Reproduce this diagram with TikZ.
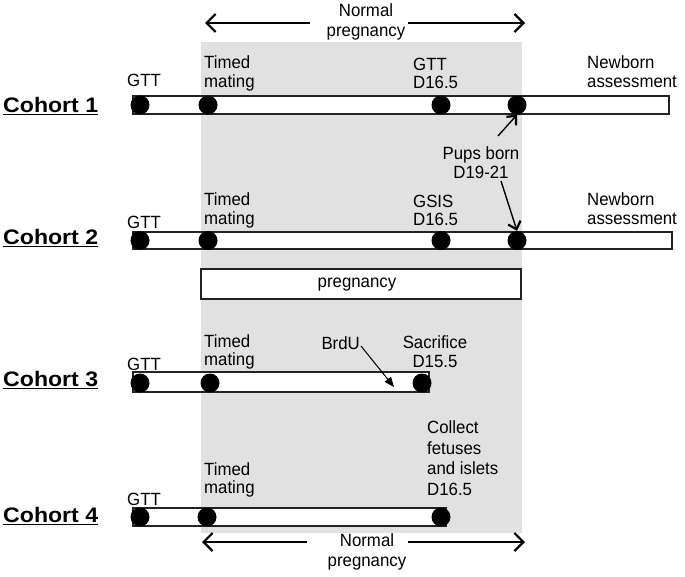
\documentclass[tikz,border=0pt]{standalone}
\usepackage{fontspec}
\setmainfont{Liberation Sans}
\usetikzlibrary{arrows.meta}
\definecolor{bgshade}{RGB}{225,225,225}
\definecolor{barline}{RGB}{35,35,35}
\begin{document}
\begin{tikzpicture}[x=1pt,y=-1pt,
  lbl/.style={font=\fontsize{17.7}{18.8}\selectfont, inner sep=0pt, align=left, transform shape, xscale=0.95},
  clbl/.style={font=\fontsize{17.7}{18.8}\selectfont, inner sep=0pt, align=center, transform shape, xscale=0.95},
  arlbl/.style={clbl, font=\fontsize{17.7}{20}\selectfont},
  cohort/.style={font=\fontsize{21}{24}\selectfont\bfseries, inner sep=0pt, anchor=west, transform shape, xscale=1.1},
  bar/.style={draw=barline, fill=white, line width=1.4pt},
  dot/.style={fill=black, circle, inner sep=0pt, minimum size=19pt},
  bigarrow/.style={line width=1.8pt, -{Straight Barb[length=9pt,width=18pt,line width=2.2pt]}},
  pupsarrow/.style={line width=1.4pt, -{Straight Barb[length=7pt,width=13pt,line width=2.2pt]}},
  brdu/.style={line width=1pt, -{Triangle[length=10pt,width=8pt]}}
]
\useasboundingbox (0,0) rectangle (685,576);
\fill[bgshade] (201,42) rectangle (522,533);

% top arrow
\node[arlbl] (ntop) at (366,22) {Normal\\pregnancy};
\coordinate (tl) at (205,23);
\coordinate (tr) at (525,23);
\draw[bigarrow] (310,23) -- (tl);
\draw[bigarrow] (408,23) -- (tr);

% Cohort 1
\node[cohort] (c1) at (3,106) {\underline{Cohort 1}};
\draw[bar] (133,96) rectangle (669,114);
\node[dot] (d11) at (140,105) {};
\node[dot] (d12) at (208,105) {};
\node[dot] (d13) at (441,105) {};
\node[dot] (d14) at (517,105) {};
\node[lbl, anchor=west] (g1) at (127,80) {GTT};
\node[lbl, anchor=west] (tm1) at (204,73.5) {Timed\\mating};
\node[lbl, anchor=west] (gt1) at (413,73.5) {GTT\\D16.5};
\node[lbl, anchor=west] (nb1) at (587,71.5) {Newborn\\assessment};

% pups born
\node[clbl] (pups) at (481,162.5) {Pups born\\D19-21};

% Cohort 2
\node[cohort] (c2) at (3,238) {\underline{Cohort 2}};
\draw[bar] (133,232) rectangle (672,249);
\node[dot] (d21) at (140,240.5) {};
\node[dot] (d22) at (208,240.5) {};
\node[dot] (d23) at (441,240.5) {};
\node[dot] (d24) at (517,240.5) {};
\node[lbl, anchor=west] (g2) at (127,222) {GTT};
\node[lbl, anchor=west] (tm2) at (204,210.5) {Timed\\mating};
\node[lbl, anchor=west] (gs2) at (413,210.5) {GSIS\\D16.5};
\node[lbl, anchor=west] (nb2) at (587,208.5) {Newborn\\assessment};

\draw[pupsarrow] (498,136) -- (d14.south);
\draw[pupsarrow] (501,181) -- (d24.north);

% pregnancy box
\draw[draw=barline, fill=white, line width=1.2pt] (201,269) rectangle (521,299);
\node[clbl] (preg) at (357,285) {pregnancy};

% Cohort 3
\node[cohort] (c3) at (3,380) {\underline{Cohort 3}};
\draw[bar] (133,372) rectangle (429,392);
\node[dot] (d31) at (140,383) {};
\node[dot] (d32) at (210,383) {};
\node[dot] (d33) at (422,383) {};
\node[lbl, anchor=west] (g3) at (127,364) {GTT};
\node[lbl, anchor=west] (tm3) at (204,352) {Timed\\mating};
\node[lbl, anchor=east] (br3) at (360,343) {BrdU};
\node[clbl] (sc3) at (435,352) {Sacrifice\\D15.5};
\coordinate (brtip) at (394,387);
\draw[brdu] (br3.east) ++(1,3) -- (brtip);

% Cohort 4
\node[cohort] (c4) at (3,516) {\underline{Cohort 4}};
\draw[bar] (133,508) rectangle (446,526);
\node[dot] (d41) at (140,517) {};
\node[dot] (d42) at (207,517) {};
\node[dot] (d43) at (441,517) {};
\node[lbl, anchor=west] (g4) at (127,499) {GTT};
\node[lbl, anchor=west] (tm4) at (204,480) {Timed\\mating};
\node[lbl, anchor=west, font=\fontsize{17.7}{20.5}\selectfont] (col4) at (427,458) {Collect\\fetuses\\and islets\\D16.5};

% bottom arrow
\node[arlbl] (nbot) at (367,552) {Normal\\pregnancy};
\coordinate (bl) at (202,542);
\coordinate (br) at (525,542);
\draw[bigarrow] (307,542) -- (bl);
\draw[bigarrow] (408,542) -- (br);
\end{tikzpicture}
\end{document}
